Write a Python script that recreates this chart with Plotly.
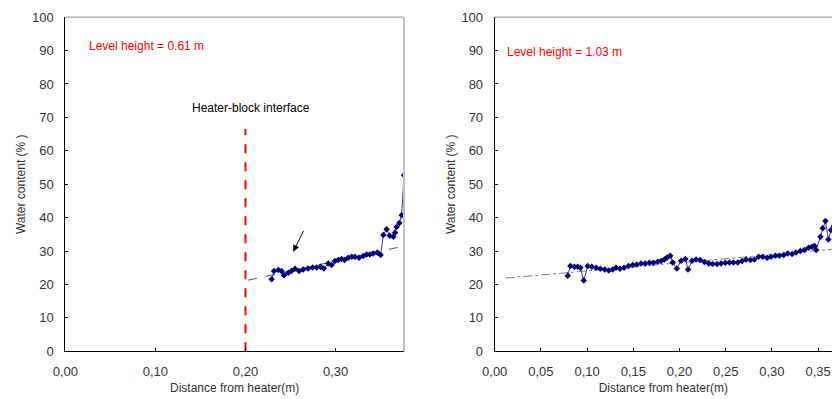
import plotly.graph_objects as go

# ---- Left panel (level height 0.61 m) ----
left_x = [0.229, 0.2317, 0.2365, 0.240, 0.2427, 0.2475, 0.251, 0.255, 0.2595, 0.264,
          0.2695, 0.2746, 0.279, 0.2834, 0.287, 0.2919, 0.2956, 0.2993, 0.303, 0.3067,
          0.310, 0.3141, 0.318, 0.3215, 0.326, 0.3308, 0.3345, 0.338, 0.3419, 0.3463,
          0.350, 0.3530, 0.3567, 0.360, 0.3642, 0.366, 0.3678, 0.3708, 0.3734, 0.376]
left_y = [21.6, 24.0, 24.3, 24.0, 22.8, 23.5, 24.0, 24.7, 24.0, 24.5,
          24.8, 25.1, 25.1, 25.3, 24.8, 26.3, 25.8, 27.0, 27.3, 27.6,
          27.3, 28.0, 28.3, 28.3, 28.0, 28.5, 29.0, 29.0, 29.3, 29.6,
          28.8, 34.8, 36.5, 34.6, 34.3, 35.5, 37.2, 38.4, 40.7, 52.7]
left_trend_x = [0.203, 0.376]
left_trend_y = [21.3, 31.5]
interface_x = [0.20, 0.20]
interface_y = [0, 66.5]

# ---- Right panel (level height 1.03 m) ----
right_x = [0.079, 0.0819, 0.0862, 0.0898, 0.0927, 0.0963, 0.1006, 0.105, 0.1097, 0.1144,
           0.119, 0.1234, 0.1277, 0.1313, 0.1356, 0.140, 0.1447, 0.1494, 0.1537, 0.1584,
           0.163, 0.1674, 0.1717, 0.1764, 0.180, 0.1836, 0.1865, 0.190, 0.1926, 0.197,
           0.2017, 0.2063, 0.2092, 0.2136, 0.2179, 0.2222, 0.2269, 0.2316, 0.2359, 0.2406,
           0.245, 0.2496, 0.254, 0.2583, 0.263, 0.2677, 0.272, 0.2767, 0.281, 0.2857,
           0.290, 0.2947, 0.299, 0.3037, 0.308, 0.3128, 0.317, 0.3218, 0.326, 0.3308,
           0.3351, 0.3398, 0.3434, 0.346, 0.3478, 0.3525, 0.355, 0.3579, 0.3611, 0.364,
           0.367, 0.370]
right_y = [22.6, 25.5, 25.3, 25.3, 25.0, 21.2, 25.5, 25.3, 25.0, 24.7,
           24.5, 24.2, 24.5, 25.0, 24.7, 25.0, 25.5, 25.8, 26.0, 26.3,
           26.3, 26.5, 26.5, 26.8, 27.0, 27.5, 28.1, 28.6, 26.6, 24.8,
           27.1, 27.6, 24.5, 27.1, 27.5, 27.3, 26.7, 26.3, 26.1, 26.1,
           26.3, 26.5, 26.6, 26.6, 26.6, 27.0, 27.5, 27.3, 27.5, 28.3,
           28.3, 28.0, 28.3, 28.6, 28.6, 28.8, 29.3, 29.1, 29.6, 30.0,
           30.3, 31.0, 31.3, 31.5, 30.3, 34.3, 36.8, 39.0, 33.5, 36.3,
           37.5, 40.0]
right_trend_x = [0.0115, 0.38]
right_trend_y = [21.9, 30.9]

y_ticks = [0, 10, 20, 30, 40, 50, 60, 70, 80, 90, 100]
left_x_ticks = [0.0, 0.1, 0.2, 0.3]
right_x_ticks = [0.0, 0.05, 0.1, 0.15, 0.2, 0.25, 0.3, 0.35]

NAVY = "#000080"
FONT = "Liberation Sans, Arial, sans-serif"
TXT = "#333333"

fig = go.Figure()

# Left panel traces
fig.add_trace(go.Scatter(x=interface_x, y=interface_y, mode="lines",
                         line=dict(color="#ff0000", width=2, dash="dash"),
                         xaxis="x", yaxis="y", showlegend=False, hoverinfo="skip"))
fig.add_trace(go.Scatter(x=left_trend_x, y=left_trend_y, mode="lines",
                         line=dict(color="#555555", width=1, dash="dash"),
                         xaxis="x", yaxis="y", showlegend=False))
fig.add_trace(go.Scatter(x=left_x, y=left_y, mode="lines+markers",
                         line=dict(color="#3a3a9a", width=1),
                         marker=dict(symbol="diamond", size=5, color=NAVY),
                         xaxis="x", yaxis="y", showlegend=False))

# Right panel traces
fig.add_trace(go.Scatter(x=right_trend_x, y=right_trend_y, mode="lines",
                         line=dict(color="#808080", width=1, dash="dashdot"),
                         xaxis="x2", yaxis="y2", showlegend=False))
fig.add_trace(go.Scatter(x=right_x, y=right_y, mode="lines+markers",
                         line=dict(color="#3a3a9a", width=1),
                         marker=dict(symbol="diamond", size=5, color=NAVY),
                         xaxis="x2", yaxis="y2", showlegend=False))

ydom = [0.1195, 0.957]
common_x = dict(showgrid=False, zeroline=False, showline=True, linecolor="#000000",
                linewidth=1, ticks="inside", ticklen=3, tickcolor="#000000",
                tickformat=".2f", tickfont=dict(family=FONT, size=13, color=TXT),
                ticklabelstandoff=8, automargin=False)
common_y = dict(showgrid=False, zeroline=False, showline=True, linecolor="#000000",
                linewidth=1, ticks="inside", ticklen=3, tickcolor="#000000",
                range=[0, 100], tickvals=y_ticks,
                tickfont=dict(family=FONT, size=13, color=TXT),
                ticklabelstandoff=8, automargin=False)

fig.update_layout(
    width=832, height=399,
    margin=dict(l=0, r=0, t=0, b=0, autoexpand=False),
    paper_bgcolor="white", plot_bgcolor="white",
    separators=", ",
    font=dict(family=FONT, size=12, color=TXT),
    xaxis=dict(common_x, domain=[0.0785, 0.4856], range=[0, 0.376],
               tickvals=left_x_ticks, anchor="y",
               title=dict(text="Distance from heater(m)", standoff=5,
                          font=dict(family=FONT, size=12, color=TXT))),
    yaxis=dict(common_y, domain=ydom, anchor="x",
               title=dict(text="Water content (% )", standoff=3,
                          font=dict(family=FONT, size=12, color=TXT))),
    xaxis2=dict(common_x, domain=[0.5946, 1.0], range=[0, 0.365],
                tickvals=right_x_ticks, anchor="y2",
                title=dict(text="Distance from heater(m)", standoff=5,
                           font=dict(family=FONT, size=12, color=TXT))),
    yaxis2=dict(common_y, domain=ydom, anchor="x2",
                title=dict(text="Water content (% )", standoff=3,
                           font=dict(family=FONT, size=12, color=TXT))),
)

# gray top/right frame borders of plot areas
fig.add_shape(type="line", xref="x domain", yref="y domain", x0=0, x1=1, y0=1, y1=1,
              line=dict(color="#c0c0c0", width=2))
fig.add_shape(type="line", xref="x domain", yref="y domain", x0=1, x1=1, y0=0, y1=1,
              line=dict(color="#c0c0c0", width=2))
fig.add_shape(type="line", xref="x2 domain", yref="y2 domain", x0=0, x1=1, y0=1, y1=1,
              line=dict(color="#c0c0c0", width=2))

fig.add_annotation(x=0.0237, y=91.5, xref="x", yref="y", text="Level height = 0.61 m",
                   showarrow=False, xanchor="left",
                   font=dict(family=FONT, size=12, color="#ff0000"))
fig.add_annotation(x=0.206, y=72.7, xref="x", yref="y", text="Heater-block interface",
                   showarrow=False, xanchor="center",
                   font=dict(family=FONT, size=12, color="#000000"))
fig.add_annotation(x=0.253, y=29.8, ax=0.2653, ay=36.5, xref="x", yref="y",
                   axref="x", ayref="y", text="", showarrow=True,
                   arrowhead=2, arrowsize=1.3, arrowwidth=1, arrowcolor="#000000")
fig.add_annotation(x=0.0115, y=89.5, xref="x2", yref="y2", text="Level height = 1.03 m",
                   showarrow=False, xanchor="left",
                   font=dict(family=FONT, size=12, color="#ff0000"))

fig.write_html("out.html")
